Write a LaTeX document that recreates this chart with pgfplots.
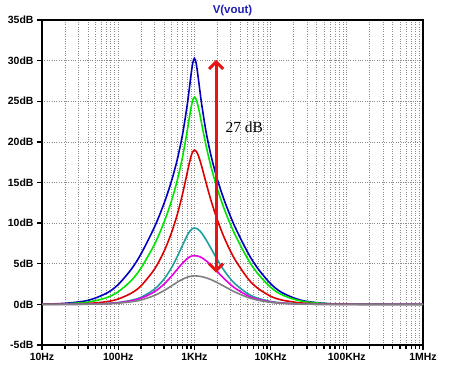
\documentclass[border=0pt]{standalone}
\usepackage{fontspec}
\setmainfont{Liberation Sans}
\newfontfamily\tnr{Liberation Serif}
\usepackage{pgfplots}
\pgfplotsset{compat=1.18}
\usetikzlibrary{arrows.meta}
\definecolor{cblue}{RGB}{0,0,190}
\definecolor{cgreen}{RGB}{0,230,0}
\definecolor{cred}{RGB}{220,0,0}
\definecolor{cteal}{RGB}{30,160,160}
\definecolor{cmag}{RGB}{230,0,230}
\definecolor{cgray}{RGB}{128,128,128}
\definecolor{carrow}{RGB}{230,20,20}
\definecolor{ctitle}{RGB}{30,30,180}
\begin{document}
\begin{tikzpicture}
\begin{axis}[name=ax, at={(0,0)}, anchor=south west, scale only axis,
  width=381bp, height=325bp,
  xmode=log, xmin=10, xmax=1e6, ymin=-5, ymax=35,
  xtick={10,100,1000,10000,100000,1000000},
  xticklabels={10Hz,100Hz,1KHz,10KHz,100KHz,1MHz},
  ytick={-5,0,5,10,15,20,25,30,35},
  yticklabels={-5dB,0dB,5dB,10dB,15dB,20dB,25dB,30dB,35dB},
  tick align=outside, tick pos=left,
  major tick length=5bp, minor tick length=3.5bp,
  every tick/.style={black, line width=1.3bp},
  axis line style={line width=1.6bp},
  xmajorgrids, xminorgrids, ymajorgrids,
  major grid style={gray!90, dotted, line width=0.7bp},
  minor grid style={gray!90, dotted, line width=0.7bp},
  ticklabel style={font=\bfseries\fontsize{10.5}{12}\selectfont},
  title={V(vout)},
  title style={font=\bfseries\fontsize{11.5}{13}\selectfont, text=ctitle, yshift=-5bp},
  every axis plot/.append style={line width=1.6bp, smooth},
]
\addplot[cblue] coordinates {(10,0.03)(20,0.13)(40,0.49)(70,1.36)(100,2.44)(150,4.38)(200,6.24)(300,9.54)(400,12.44)(500,15.17)(600,17.95)(700,20.95)(800,24.37)(850,26.25)(900,28.14)(950,29.68)(1000,30.29)(1052.6,29.71)(1111.1,28.23)(1176.5,26.39)(1250,24.54)(1428.6,21.15)(1666.7,18.16)(2000,15.39)(2500,12.66)(3333.3,9.74)(5000,6.41)(6666.7,4.53)(10000,2.54)(14286,1.42)(25000,0.51)(50000,0.13)(100000,0.03)(1000000,0)};
\addplot[cgreen] coordinates {(10,0.02)(20,0.07)(40,0.28)(70,0.82)(100,1.55)(150,2.98)(200,4.50)(300,7.41)(400,10.12)(500,12.73)(600,15.38)(700,18.18)(800,21.20)(850,22.73)(900,24.12)(950,25.13)(1000,25.5)(1052.6,25.25)(1111.1,24.51)(1176.5,23.43)(1250,22.16)(1428.6,19.45)(1666.7,16.80)(2000,14.21)(2500,11.58)(3333.3,8.78)(5000,5.62)(6666.7,3.87)(10000,2.11)(14286,1.15)(25000,0.41)(50000,0.11)(100000,0.03)(1000000,0)};
\addplot[cred] coordinates {(10,0.01)(20,0.03)(40,0.11)(70,0.33)(100,0.66)(150,1.40)(200,2.30)(300,4.35)(400,6.54)(500,8.81)(600,11.16)(700,13.61)(800,16.09)(850,17.22)(900,18.17)(950,18.79)(1000,19.0)(1052.6,18.86)(1111.1,18.45)(1176.5,17.79)(1250,16.94)(1428.6,14.90)(1666.7,12.67)(2000,10.39)(2500,8.07)(3333.3,5.67)(5000,3.21)(6666.7,2.04)(10000,1.00)(14286,0.52)(25000,0.18)(50000,0.04)(100000,0.01)(1000000,0)};
\addplot[cteal] coordinates {(10,0)(20,0.01)(40,0.04)(70,0.11)(100,0.23)(150,0.51)(200,0.88)(300,1.88)(400,3.12)(500,4.50)(600,5.94)(700,7.30)(800,8.43)(850,8.86)(900,9.16)(950,9.34)(1000,9.40)(1052.6,9.36)(1111.1,9.25)(1176.5,9.05)(1250,8.76)(1428.6,7.93)(1666.7,6.82)(2000,5.50)(2500,4.06)(3333.3,2.62)(5000,1.32)(6666.7,0.78)(10000,0.36)(14286,0.18)(25000,0.06)(50000,0.01)(100000,0)(1000000,0)};
\addplot[cmag] coordinates {(10,0)(20,0.01)(40,0.03)(70,0.10)(100,0.20)(150,0.44)(200,0.75)(300,1.56)(400,2.50)(500,3.47)(600,4.35)(700,5.09)(800,5.61)(850,5.79)(900,5.91)(950,5.98)(1000,6.0)(1052.6,5.98)(1111.1,5.94)(1176.5,5.86)(1250,5.74)(1428.6,5.36)(1666.7,4.79)(2000,4.03)(2500,3.10)(3333.3,2.07)(5000,1.07)(6666.7,0.64)(10000,0.30)(14286,0.15)(25000,0.05)(50000,0.01)(100000,0)(1000000,0)};
\addplot[cgray] coordinates {(10,0)(20,0.01)(40,0.02)(70,0.07)(100,0.15)(150,0.32)(200,0.54)(300,1.10)(400,1.70)(500,2.27)(600,2.74)(700,3.10)(800,3.33)(850,3.41)(900,3.46)(950,3.49)(1000,3.5)(1052.6,3.50)(1111.1,3.48)(1176.5,3.45)(1250,3.41)(1428.6,3.26)(1666.7,3.03)(2000,2.67)(2500,2.19)(3333.3,1.56)(5000,0.86)(6666.7,0.53)(10000,0.25)(14286,0.13)(25000,0.04)(50000,0.01)(100000,0)(1000000,0)};
\draw[carrow, line width=3bp, {Straight Barb[length=7bp,width=14bp]}-{Straight Barb[length=7bp,width=14bp]}] (axis cs:1930,3.9) -- (axis cs:1930,30.1);
\node[font=\tnr\fontsize{15.5}{18}\selectfont, anchor=west, inner sep=0pt] at (axis cs:2560,21.8) {27 dB};
\end{axis}
\pgfresetboundingbox
\path[use as bounding box] ([xshift=-42bp,yshift=-26bp]ax.south west) rectangle ([xshift=408bp,yshift=345bp]ax.south west);
\end{tikzpicture}
\end{document}
